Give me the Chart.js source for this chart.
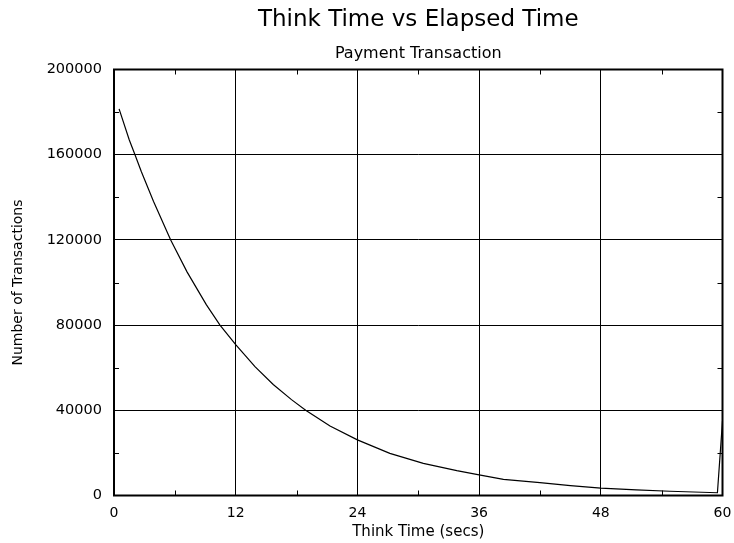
<!DOCTYPE html>
<html><head><meta charset="utf-8">
<script src="https://cdn.jsdelivr.net/npm/chart.js@4/dist/chart.umd.min.js"></script>
<style>html,body{margin:0;padding:0;background:#fff}#w{width:734px;height:543px}</style>
</head><body><div id="w"><canvas id="c"></canvas></div>
<script>
const thinkTimes = [0.5, 1.5, 2.07, 2.7, 3.9, 5.59, 7.2, 9.1, 10.45, 12, 13.9, 15.7, 17.5, 18.9, 21.3, 24, 27.2, 30.5, 33.8, 36, 38.4, 42, 45, 48, 51.5, 54.8, 59.5, 60];
const transactions = [181500, 167000, 160000, 152000, 138000, 120000, 105000, 89600, 80000, 70800, 60500, 52100, 45000, 40000, 32600, 26100, 19800, 15100, 11700, 9700, 7600, 6000, 4600, 3500, 2600, 2000, 1300, 35000];
const xTicks = [0, 12, 24, 36, 48, 60];
const yTicks = [0, 40000, 80000, 120000, 160000, 200000];
const xMinor = [6, 18, 30, 42, 54];
const yMinor = [20000, 60000, 100000, 140000, 180000];
const FONT = 'DejaVu Sans, sans-serif';

const frame = {
  id: 'frame',
  afterDraw(chart) {
    const {ctx, chartArea: a, scales: {x, y}} = chart;
    ctx.save();
    ctx.strokeStyle = '#000';
    ctx.lineWidth = 1;
    ctx.beginPath();
    xMinor.forEach(v => {
      const px = Math.round(x.getPixelForValue(v)) + 0.5;
      ctx.moveTo(px, a.bottom); ctx.lineTo(px, a.bottom - 5);
      ctx.moveTo(px, a.top); ctx.lineTo(px, a.top + 5);
    });
    yMinor.forEach(v => {
      const py = Math.round(y.getPixelForValue(v)) + 0.5;
      ctx.moveTo(a.left, py); ctx.lineTo(a.left + 5, py);
      ctx.moveTo(a.right, py); ctx.lineTo(a.right - 5, py);
    });
    ctx.stroke();
    ctx.lineWidth = 2;
    ctx.strokeRect(a.left, a.top, a.right - a.left, a.bottom - a.top);
    ctx.restore();
  }
};

new Chart(document.getElementById('c'), {
  type: 'scatter',
  data: {
    datasets: [{
      data: thinkTimes.map((t, i) => ({x: t, y: transactions[i]})),
      showLine: true,
      borderColor: '#000',
      borderWidth: 1.2,
      pointRadius: 0,
      tension: 0
    }]
  },
  options: {
    responsive: true,
    maintainAspectRatio: false,
    animation: false,
    layout: {padding: {left: 0, right: 11.5, top: 0, bottom: 0}},
    plugins: {
      legend: {display: false},
      tooltip: {enabled: false},
      title: {display: true, fullSize: false, text: 'Think Time vs Elapsed Time', color: '#000',
        font: {family: FONT, size: 23, weight: 'normal'},
        padding: {top: 6, bottom: 0}},
      subtitle: {display: true, fullSize: false, text: 'Payment Transaction', color: '#000',
        font: {family: FONT, size: 16, weight: 'normal'},
        padding: {top: 11, bottom: 5.7}}
    },
    scales: {
      x: {
        type: 'linear', min: 0, max: 60,
        afterBuildTicks: s => { s.ticks = xTicks.map(v => ({value: v})); },
        afterFit: s => { s.height = 47.5; s.paddingRight = 0; s.paddingLeft = 0; },
        grid: {color: '#000', lineWidth: 1, drawTicks: false},
        border: {display: false},
        ticks: {color: '#000', padding: 9, maxRotation: 0,
          callback: v => String(v),
          font: {family: FONT, size: 14}},
        title: {display: true, text: 'Think Time (secs)', color: '#000',
          font: {family: FONT, size: 15},
          padding: {top: 0, bottom: 2}}
      },
      y: {
        type: 'linear', min: 0, max: 200000,
        afterBuildTicks: s => { s.ticks = yTicks.map(v => ({value: v})); },
        afterFit: s => { s.width = 114; },
        grid: {color: '#000', lineWidth: 1, drawTicks: false},
        border: {display: false},
        ticks: {color: '#000', padding: 12,
          callback: v => String(v),
          font: {family: FONT, size: 14.5}},
        title: {display: true, text: 'Number of Transactions', color: '#000',
          font: {family: FONT, size: 14},
          padding: {top: 10, bottom: 0}}
      }
    }
  },
  plugins: [frame]
});
</script></body></html>
